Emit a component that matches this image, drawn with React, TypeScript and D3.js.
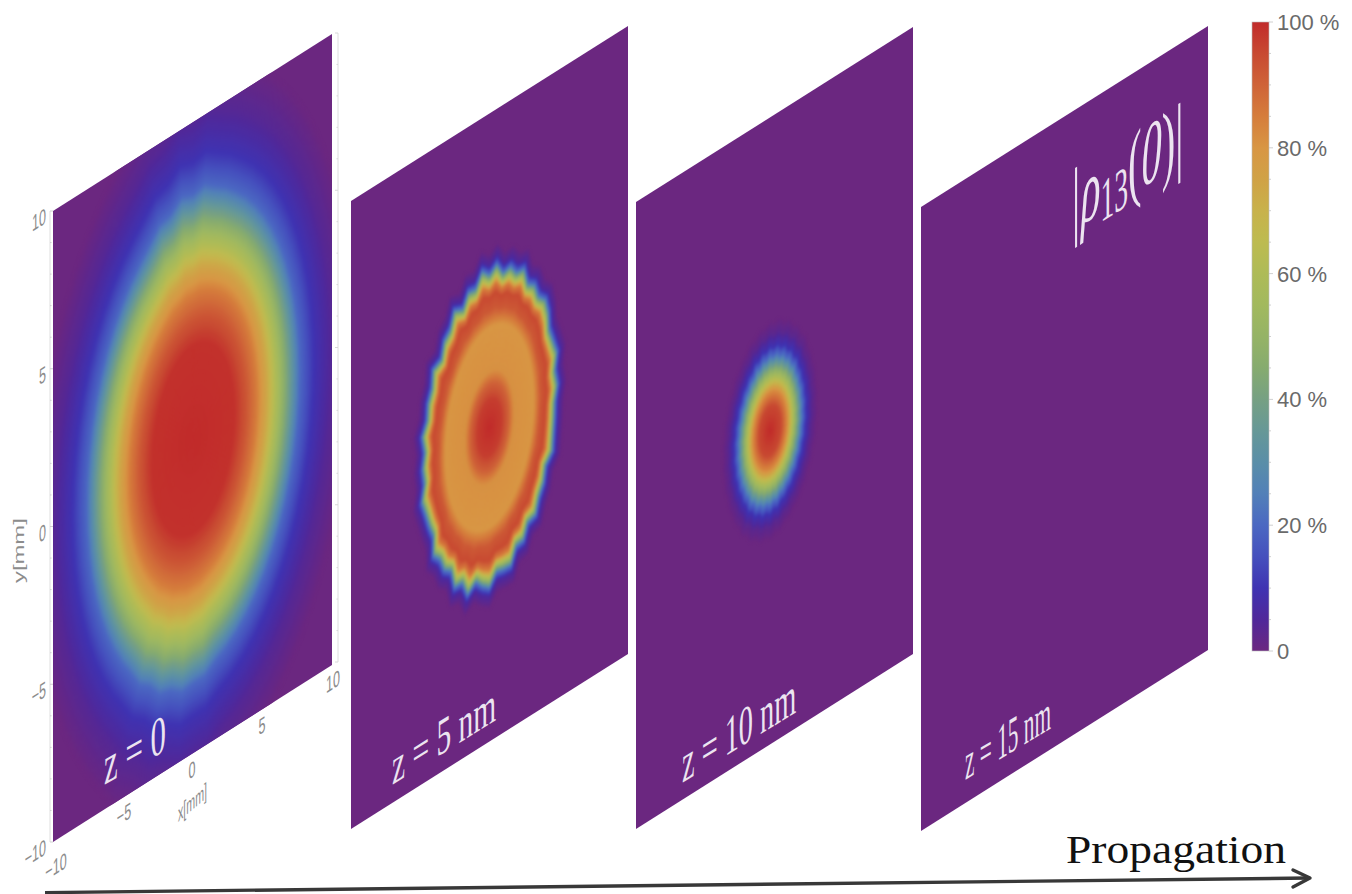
import React from "react";
import * as d3 from "d3";

// ---- colour bar ----
const colorLevels = [0,5,10,15,20,25,30,35,40,45,50,55,60,65,70,75,80,85,90,95,100];
const colorValues = ["#6b2780","#50289a","#3f33b2","#4550bd","#4b68c2","#5280b8","#5a8ea8","#669897","#76a083","#86ab6f","#95b366","#a2b95e","#aebb57","#bdbb50","#c8b24b","#d0a246","#d89644","#d57d3c","#cf6338","#c84a32","#c12b2b"];
const barTicks = [0,20,40,60,80,100];
const barTickLabels = ["0","20 %","40 %","60 %","80 %","100 %"];

// ---- panels ----
const panelNames = ["z = 0","z = 5 nm","z = 10 nm","z = 15 nm"];
const panelXLeft = [53,351,636,921];
const panelXRight = [332,628,913,1208];
const panelBottomLeft = [842,829,829,831];
const panelTopLeft = [211,201,202,207];
const panelBottomRight = [665,654,654,650];

// beam centre (mm)
const centreX = [0.05,0,-0.32,0];
const centreY = [-0.05,0,0,0];

// radial profiles: radius (mm) and level (%)
const radii0 = [0,3,3.8,4.6,5.4,6.2,7.7,8.7,10,11.5];
const levels0 = [100,99,93,85,72,55,20,10,4,0];
const radii1 = [0,0.9,1.4,1.8,3.2,3.7,4.1,4.35,4.6,4.85,5.1,5.5];
const levels1 = [100,97,90,81,80,92,95,85,55,22,6,0];
const radii2 = [0,0.8,1.25,1.6,1.9,2.3,2.6,3,3.4];
const levels2 = [100,95,82,62,45,22,10,3,0];
const radii3: number[] = [];
const levels3: number[] = [];
const panelRadii = [radii0,radii1,radii2,radii3];
const panelLevels = [levels0,levels1,levels2,levels3];

// rim irregularity per 6 degrees (mm)
const jag0 = [0,0,0,0,0,0,0,0,0,0,0,0,0.05,0.1,0.25,0.1,0.3,0.1,0.2,0.05,0,0,0,0,0,0,0,0,0,0,0,0,0,0,0,0,0,0,0,0,0.1,0,0.15,0.05,0.2,0.1,0.15,0,0,0,0,0,0,0,0,0,0,0,0,0];
const jag1 = [0.1,-0.05,0.18,0.02,-0.08,0.12,0.2,-0.04,0.08,-0.1,0.22,0,0.14,-0.06,0.28,0.05,0.34,-0.02,0.16,-0.1,0.3,0.02,0.1,-0.12,0.24,0,0.06,-0.06,0.16,-0.1,0.02,-0.08,0.2,0.04,-0.04,-0.12,0.22,0,0.08,-0.1,0.26,0.02,0.34,-0.05,0.14,0.3,-0.04,0.1,0.26,-0.08,0.12,-0.1,0.18,0,0.02,-0.12,0.16,0.04,-0.02,-0.06];
const jag2 = [0,0.05,0,0.05,0,0.05,0,0.1,0,0.1,0,0.1,0,0.1,0,0.1,0,0.1,0,0.1,0,0.05,0,0.05,0,0.05,0,0.05,0,0.05,0,0.05,0,0.05,0,0.05,0,0.05,0,0.1,0,0.1,0,0.1,0,0.1,0,0.1,0,0.05,0,0.05,0,0.05,0,0.05,0,0.05,0,0.05];
const panelJag = [jag0,jag1,jag2,[] as number[]];
const jagStart = [4,3.4,1];
const jagEnd = [7,4.7,2.5];

// ---- axes of first panel ----
const axisMajor = [-10,-5,0,5,10];
const axisMinor = d3.range(-10,11);
const axisLabels = ["\u221210","\u22125","0","5","10"];

const color = d3.scaleLinear<string>().domain(colorLevels).range(colorValues).clamp(true);
const SKEW = 0.63;
const skewed = (x:number,y:number,sx:number,sy:number,slope=SKEW)=>`matrix(${sx},${-slope*sx},0,${sy},${x},${y})`;

function panelScales(i:number){
  const xs = d3.scaleLinear().domain([-10,10]).range([panelXLeft[i],panelXRight[i]]);
  const ys = d3.scaleLinear().domain([-10,10]).range([panelBottomLeft[i],panelTopLeft[i]]);
  const slope = (panelBottomLeft[i]-panelBottomRight[i])/(panelXRight[i]-panelXLeft[i]);
  const project = (x:number,y:number):[number,number]=>{
    const sx = xs(x);
    return [sx, ys(y)-slope*(sx-panelXLeft[i])];
  };
  return {xs,ys,slope,project};
}

function Beam({i}:{i:number}){
  const {project} = panelScales(i);
  const rs = panelRadii[i], ls = panelLevels[i];
  if(!rs.length) return null;
  const level = d3.scaleLinear().domain(rs).range(ls).clamp(true);
  const w = d3.scaleLinear().domain([jagStart[i],jagEnd[i]]).range([0,1]).clamp(true);
  const jag = panelJag[i];
  const rMax = rs[rs.length-1];
  const bands = d3.range(140).map(k=>rMax*(1-k/140));
  const line = d3.line<[number,number]>().curve(d3.curveLinearClosed);
  return <g filter="url(#soft)">
    {bands.map((r,k)=>{
      const pts = jag.map((j,a)=>{
        const t = a/jag.length*2*Math.PI;
        const rr = Math.max(0,r+j*w(r));
        return project(centreX[i]+rr*Math.cos(t),centreY[i]+rr*Math.sin(t));
      });
      return <path key={k} d={line(pts)!} fill={color(level(r))}/>;
    })}
  </g>;
}

function Panel({i}:{i:number}){
  const {project} = panelScales(i);
  const corners = [project(-10,-10),project(10,-10),project(10,10),project(-10,10)];
  const outline = d3.line().curve(d3.curveLinearClosed)(corners)!;
  return <g>
    <clipPath id={`clip${i}`}><path d={outline}/></clipPath>
    <g clipPath={`url(#clip${i})`}>
      <rect x={panelXLeft[i]-10} y={0} width={panelXRight[i]-panelXLeft[i]+20} height={894} fill={color(0)}/>
      <Beam i={i}/>
    </g>
  </g>;
}

const zLabelX = [104,392,682,965];
const zLabelY = [785,785,783,780];
const zLabelW = [72,124,136,100];
const zLabelSlope = [0.56,0.625,0.62,0.6];
const zLabelSx = [0.86,0.84,0.84,0.86];
const zLabelSy = [1.95,1.85,1.95,1.8];

function FirstPanelAxes(){
  const p = panelScales(0);
  const leftX = 50, rightX = 338;
  const ys = p.ys;
  const rs = d3.scaleLinear().domain([-10,10]).range([662,33]);
  const grey = "#8c8c8c";
  const lblStyle = {fontFamily:"Liberation Sans",fontSize:14,fill:grey} as const;
  const xTickX = [56,124,192,262,333];
  return <g>
    <line x1={leftX} x2={leftX} y1={ys(-10)} y2={ys(10)} stroke="#dedede" strokeWidth={1}/>
    <line x1={rightX} x2={rightX} y1={rs(-10)} y2={rs(10)} stroke="#dedede" strokeWidth={1}/>
    {axisMinor.map(v=><g key={v}>
      <line x1={leftX} x2={leftX+(v%5===0?3:1.5)} y1={ys(v)} y2={ys(v)} stroke="#d0d0d0"/>
      <line x1={rightX} x2={rightX-(v%5===0?3:1.5)} y1={rs(v)} y2={rs(v)} stroke="#d8d8d8"/>
    </g>)}
    {axisMajor.map((v,k)=><text key={v} transform={skewed(46,ys(v)+12,0.9,1.6)} textAnchor="end" style={lblStyle}>{axisLabels[k]}</text>)}
    {axisMajor.map((v,k)=><text key={v} transform={skewed(xTickX[k],p.project(v,-10)[1]+ (k===0?32:24),0.9,1.6)} textAnchor="middle" style={lblStyle}>{axisLabels[k]}</text>)}
    <text transform="translate(24,583) rotate(-90) scale(1.7,1)" style={{...lblStyle,fontSize:14}}>y[mm]</text>
    <text transform={skewed(178,822,0.82,1.7,0.85)} style={{...lblStyle,fontSize:13}}>x[mm]</text>
  </g>;
}

function ColorBar(){
  const y = d3.scaleLinear().domain([0,100]).range([651,22]);
  const minor = d3.range(0,101,5);
  return <g>
    <defs>
      <linearGradient id="barFill" x1="0" x2="0" y1="1" y2="0">
        {colorLevels.map((l,k)=><stop key={l} offset={`${l}%`} stopColor={colorValues[k]}/>)}
      </linearGradient>
    </defs>
    <rect x={1252} y={y(100)} width={17} height={y(0)-y(100)} fill="url(#barFill)" stroke="#bdbdbd" strokeWidth={0.6}/>
    {minor.map(v=><line key={v} x1={1269} x2={v%20===0?1273:1271} y1={y(v)} y2={y(v)} stroke="#c4c4c4" strokeWidth={0.8}/>)}
    {barTicks.map((v,k)=><text key={v} x={1277} y={y(v)+8} style={{fontFamily:"Liberation Sans",fontSize:22,fill:"#6a6a6a"}}>{barTickLabels[k]}</text>)}
  </g>;
}

export default function App(){
  const white = "#ece4f0";
  return <svg width={1352} height={894} viewBox="0 0 1352 894" style={{position:"absolute",left:0,top:0,background:"#fff"}}>
    <defs>
      <filter id="soft" filterUnits="userSpaceOnUse" x="0" y="0" width="1352" height="894" colorInterpolationFilters="sRGB">
        <feGaussianBlur stdDeviation="1.1"/>
      </filter>
    </defs>
    <FirstPanelAxes/>
    {panelNames.map((_,i)=><Panel key={i} i={i}/>)}
    {panelNames.map((n,i)=><text key={n} transform={skewed(zLabelX[i],zLabelY[i],zLabelSx[i],zLabelSy[i],zLabelSlope[i])} textLength={zLabelW[i]} lengthAdjust="spacingAndGlyphs" style={{fontFamily:"Liberation Serif",fontSize:28,fill:white}}>{n}</text>)}
    <text transform={skewed(1072,231,0.92,2,0.62)} style={{fontFamily:"Liberation Serif",fontSize:44,fill:white}}>
      <tspan>|</tspan><tspan fontStyle="italic" dx={1}>ρ</tspan><tspan fontSize={30} dy={4.5}>13</tspan><tspan dy={-4.5}>(</tspan><tspan fontStyle="italic">0</tspan><tspan>)</tspan><tspan>|</tspan>
    </text>
    <ColorBar/>
    <text x={1066} y={863} textLength={220} lengthAdjust="spacingAndGlyphs" style={{fontFamily:"Liberation Serif",fontSize:40,fill:"#111"}}>Propagation</text>
    <line x1={45} y1={892.6} x2={1309} y2={878} stroke="#383838" strokeWidth={3.4}/>
    <path d={d3.line()([[1293,870],[1310,878],[1293,887]])!} fill="none" stroke="#383838" strokeWidth={3.4} strokeLinecap="round" strokeLinejoin="round"/>
  </svg>;
}
